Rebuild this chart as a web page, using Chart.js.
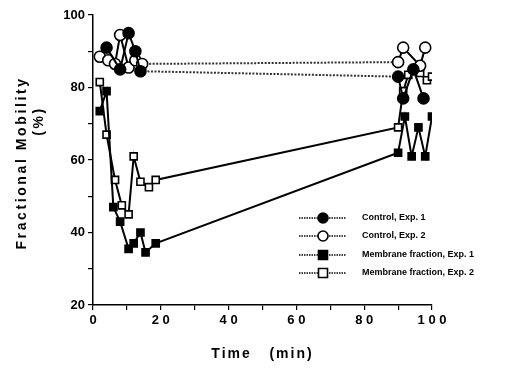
<!DOCTYPE html>
<html>
<head>
<meta charset="utf-8">
<script src="https://cdn.jsdelivr.net/npm/chart.js@4/dist/chart.umd.min.js"></script>
<style>
html,body{margin:0;padding:0;background:#fff;}
#wrap{width:515px;height:375px;position:relative;}
</style>
</head>
<body>
<div id="wrap"><canvas id="c" width="515" height="375"></canvas></div>
<script>
// ---- data ----
const seriesNames = ['Control, Exp. 1', 'Control, Exp. 2', 'Membrane fraction, Exp. 1', 'Membrane fraction, Exp. 2'];

const timeCtrl1 = [4, 8, 10.5, 12.5, 14, 90, 91.5, 94.5, 97.5];
const ctrl1     = [91, 85, 95, 90, 84.5, 83, 77, 85, 77];

const timeCtrl2 = [2, 4.5, 6.5, 8, 10.5, 12.5, 14.5, 90, 91.5, 96.5, 98];
const ctrl2     = [88.5, 87.5, 86.5, 94.5, 85.5, 87.5, 86.5, 87, 91, 86, 91];

const timeMem1  = [2, 4, 6, 8, 10.5, 12, 14, 15.5, 18.5, 90, 92, 94, 96, 98, 100];
const mem1      = [73.5, 79, 47, 43, 35.5, 37, 40, 34.5, 37, 62, 72, 61, 69, 61, 72];

const timeMem2  = [2, 4, 6.5, 8.5, 10.5, 12, 14, 16.5, 18.5, 90, 91.5, 93, 96.5, 98.5, 100];
const mem2      = [81.5, 67, 54.5, 47.5, 45, 61, 54, 52.5, 54.5, 69, 79, 83.5, 84, 82, 83];

const xTickLabels = ['0', '2 0', '4 0', '6 0', '8 0', '1 0 0'];
const yTickLabels = ['20', '40', '60', '80', '100'];
const xTitle = 'Time   (min)';
const yTitle = 'Fractional Mobility';
const yUnit = '(%)';

// ---- build ----
function pts(ts, vs){ return ts.map((t,i)=>({x:t, y:vs[i]})); }
const styles = [
  {fill:'#000', shape:'circle', dotted:true},
  {fill:'#fff', shape:'circle', dotted:true},
  {fill:'#000', shape:'rect', dotted:false},
  {fill:'#fff', shape:'rect', dotted:false}
];
const allData = [pts(timeCtrl1, ctrl1), pts(timeCtrl2, ctrl2), pts(timeMem1, mem1), pts(timeMem2, mem2)];

const datasets = allData.map((d,i)=>({
  label: seriesNames[i],
  data: d,
  borderColor: '#000',
  borderWidth: 2,
  backgroundColor: styles[i].fill,
  pointBackgroundColor: styles[i].fill,
  pointBorderColor: '#000',
  pointBorderWidth: 1.6,
  pointStyle: styles[i].shape,
  pointRadius: styles[i].shape === 'circle' ? 5.5 : 5,
  pointHoverRadius: 5.5,
  tension: 0,
  fill: false,
  segment: {
    borderDash: ctx => (styles[i].dotted && ctx.p0.parsed.x < 50 && ctx.p1.parsed.x > 50) ? [2,1.5] : undefined,
    borderColor: ctx => (styles[i].dotted && ctx.p0.parsed.x < 50 && ctx.p1.parsed.x > 50) ? '#333' : undefined
  }
}));

const titlesAndLegend = {
  id: 'titlesAndLegend',
  afterDraw(chart){
    const ctx = chart.ctx;
    const area = chart.chartArea;
    ctx.save();
    ctx.fillStyle = '#000';
    // y title
    ctx.font = 'bold 14px "Liberation Sans", Arial, sans-serif';
    ctx.letterSpacing = '2.6px';
    ctx.textAlign = 'center';
    ctx.textBaseline = 'middle';
    ctx.save();
    ctx.translate(22, 163);
    ctx.rotate(-Math.PI/2);
    ctx.fillText(yTitle, 0, 0);
    ctx.restore();
    ctx.save();
    ctx.translate(39, 121);
    ctx.rotate(-Math.PI/2);
    ctx.fillText(yUnit, 0, 0);
    ctx.restore();
    // x title
    ctx.letterSpacing = '2px';
    ctx.fillText(xTitle, (area.left + area.right)/2, 354);
    ctx.letterSpacing = '0px';
    // legend
    const rows = [218, 236, 255, 273];
    ctx.font = 'bold 9px "Liberation Sans", Arial, sans-serif';
    ctx.textAlign = 'left';
    rows.forEach((y, i)=>{
      ctx.strokeStyle = '#444';
      ctx.lineWidth = 2;
      ctx.setLineDash([1.5,1]);
      ctx.beginPath(); ctx.moveTo(299, y); ctx.lineTo(346, y); ctx.stroke();
      ctx.setLineDash([]);
      ctx.strokeStyle = '#000';
      ctx.lineWidth = 1.6;
      ctx.fillStyle = styles[i].fill;
      ctx.beginPath();
      if (styles[i].shape === 'circle') ctx.arc(323, y, 5, 0, Math.PI*2);
      else ctx.rect(318.5, y-4.5, 9, 9);
      ctx.fill(); ctx.stroke();
      ctx.fillStyle = '#000';
      ctx.fillText(seriesNames[i], 362, y);
    });
    ctx.restore();
  }
};

new Chart(document.getElementById('c'), {
  type: 'line',
  data: { datasets },
  options: {
    responsive: false,
    animation: false,
    layout: { padding: { left: 10, right: 83, top: 15, bottom: 0 } },
    plugins: { legend: { display: false }, tooltip: { enabled: false } },
    scales: {
      x: {
        type: 'linear', min: 0, max: 100,
        afterFit: s => { s.height = 70; },
        border: { display: true, color: '#000', width: 1.5 },
        grid: { drawOnChartArea: false, drawTicks: true, tickLength: 5, color: '#000', lineWidth: 1.2 },
        ticks: {
          stepSize: 10, padding: 3, color: '#000', maxRotation: 0, autoSkip: false,
          font: { family: '"Liberation Sans", Arial, sans-serif', size: 13, weight: 'bold' },
          callback: v => (v % 20 === 0) ? xTickLabels[v/20] : ''
        }
      },
      y: {
        type: 'linear', min: 20, max: 100,
        afterFit: s => { s.width = 83; },
        border: { display: true, color: '#000', width: 1.5 },
        grid: { drawOnChartArea: false, drawTicks: true, tickLength: 5, color: '#000', lineWidth: 1.2 },
        ticks: {
          stepSize: 10, padding: 3, color: '#000', autoSkip: false,
          font: { family: '"Liberation Sans", Arial, sans-serif', size: 13, weight: 'bold' },
          callback: v => (v % 20 === 0) ? yTickLabels[(v-20)/20] : ''
        }
      }
    }
  },
  plugins: [titlesAndLegend]
});
</script>
</body>
</html>
